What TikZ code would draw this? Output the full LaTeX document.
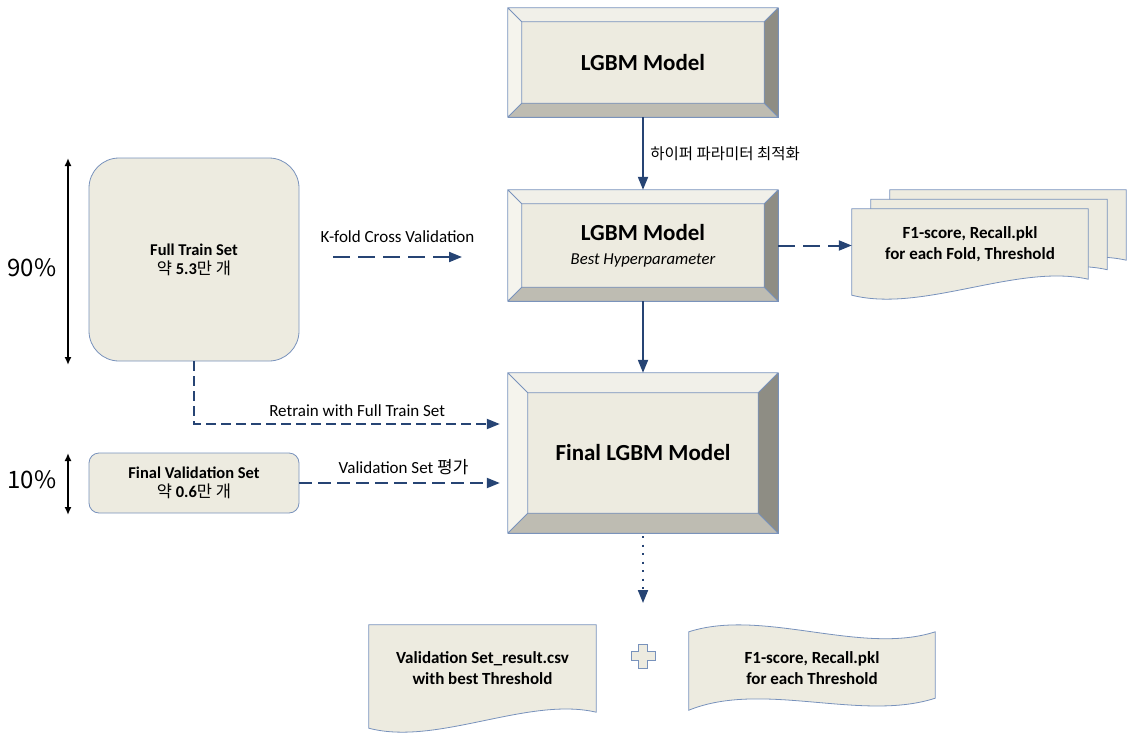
\documentclass[tikz,border=0pt]{standalone}
\usepackage{fontspec}
\setmainfont{Carlito}
\newfontfamily\kr{Noto Sans CJK KR}
\usetikzlibrary{arrows.meta,calc,backgrounds}

\definecolor{face}{RGB}{237,235,224}
\definecolor{bvtop}{RGB}{241,240,233}
\definecolor{bvleft}{RGB}{245,244,237}
\definecolor{bvright}{RGB}{142,141,132}
\definecolor{bvbottom}{RGB}{190,188,178}
\definecolor{edgeblue}{RGB}{120,146,188}
\definecolor{flow}{RGB}{38,68,116}

\tikzset{
  model/.style={draw=edgeblue,fill=face,inner sep=0pt,align=center,font=\bfseries\fontsize{23}{26}\selectfont},
  setbox/.style={draw=edgeblue,fill=face,line width=0.8pt,align=center,inner sep=0pt,font=\bfseries\fontsize{16.5}{19}\selectfont},
  docbox/.style={inner sep=0pt,align=center,font=\bfseries\fontsize{17}{21}\selectfont},
  docline/.style={draw=edgeblue,fill=face,line width=0.8pt},
  flowarrow/.style={flow,line width=2pt,-{Triangle[length=13pt,width=10pt]}},
  longdash/.style={flowarrow,dash pattern=on 17pt off 8pt},
  shortdash/.style={flowarrow,dash pattern=on 10pt off 5pt},
  lbl/.style={text=black,font=\fontsize{17}{20}\selectfont},
  share/.style={black,line width=2pt,{Latex[length=8pt,width=7pt]}-{Latex[length=8pt,width=7pt]}},
  pct/.style={font=\kr\fontsize{24}{28}\selectfont}
}

% bevel frame round a model node
\newcommand{\bevel}[2]{%
  \path (#1.north west) coordinate (bwA) ++(#2,#2) coordinate (bwa);
  \path (#1.north east) coordinate (bwB) ++(-#2,#2) coordinate (bwb);
  \path (#1.south east) coordinate (bwC) ++(-#2,-#2) coordinate (bwc);
  \path (#1.south west) coordinate (bwD) ++(#2,-#2) coordinate (bwd);
  \fill[bvtop] (bwA) -- (bwB) -- (bwb) -- (bwa) -- cycle;
  \fill[bvright] (bwB) -- (bwC) -- (bwc) -- (bwb) -- cycle;
  \fill[bvbottom] (bwC) -- (bwD) -- (bwd) -- (bwc) -- cycle;
  \fill[bvleft] (bwD) -- (bwA) -- (bwa) -- (bwd) -- cycle;
  \draw[edgeblue,line width=0.8pt] (bwA) rectangle (bwC) (bwa) rectangle (bwc)
    (bwA) -- (bwa) (bwB) -- (bwb) (bwC) -- (bwc) (bwD) -- (bwd);
}
% document outline behind a docbox node
\newcommand{\docshape}[1]{%
  \begin{scope}[on background layer]
    \draw[docline] (#1.north west) -- (#1.north east) -- (#1.south east)
      .. controls ($(#1.south east)!0.3!(#1.south west)+(0,-16)$) and ($(#1.south east)!0.7!(#1.south west)+(0,34)$) .. ($(#1.south west)+(0,16)$) -- cycle;
  \end{scope}
}
% tape outline behind a docbox node
\newcommand{\tapeshape}[1]{%
  \begin{scope}[on background layer]
    \draw[docline] (#1.north west)
      .. controls ($(#1.north west)!0.3!(#1.north east)+(0,-24)$) and ($(#1.north west)!0.7!(#1.north east)+(0,24)$) .. (#1.north east)
      -- ($(#1.south east)+(0,-6)$)
      .. controls ($(#1.south west)!0.7!(#1.south east)+(0,18)$) and ($(#1.south west)!0.3!(#1.south east)+(0,-24)$) .. ($(#1.south west)+(0,6)$) -- cycle;
  \end{scope}
}

\begin{document}
\begin{tikzpicture}[x=1pt,y=-1pt]
  \useasboundingbox (0,0) rectangle (1147,749);

  % models
  \node[model,minimum width=270,minimum height=109] (lgbm) at (643,62.5) {LGBM Model};
  \bevel{lgbm}{14}
  \node[model,minimum width=270,minimum height=111] (best) at (643,245.5)
    {LGBM Model\\[-2pt]{\mdseries\itshape\fontsize{16.7}{20}\selectfont Best Hyperparameter}};
  \bevel{best}{14}
  \node[model,minimum width=270,minimum height=160] (final) at (643,453) {Final LGBM Model};
  \bevel{final}{20}

  % data sets
  \node[setbox,rounded corners=30pt,minimum width=210,minimum height=203] (full) at (194,259.5)
    {Full Train Set\\{\kr\mdseries 약} 5.3{\kr\mdseries 만 개}};
  \node[setbox,rounded corners=10pt,minimum width=210,minimum height=60] (val) at (194,483)
    {Final Validation Set\\{\kr\mdseries 약} 0.6{\kr\mdseries 만 개}};
  \coordinate (s90a) at (68,158);  \coordinate (s90b) at (68,365);
  \coordinate (s10a) at (68,453);  \coordinate (s10b) at (68,515);
  \draw[share] (s90a) -- (s90b);
  \draw[share] (s10a) -- (s10b);
  \node[pct] (p90) at (32,268) {90\%};
  \node[pct] (p10) at (32,480) {10\%};

  % fold results
  \foreach \i in {2,1}{
    \node[docbox,minimum width=236,minimum height=70] (fold\i) at ({970+19*\i},{244-9.5*\i}) {};
    \docshape{fold\i}
  }
  \node[docbox,minimum width=236,minimum height=70] (fold) at (970,244)
    {F1-score, Recall.pkl\\for each Fold, Threshold};
  \docshape{fold}

  % final outputs
  \node[docbox,minimum width=227,minimum height=87] (csv) at (482.5,668.5)
    {Validation Set\_result.csv\\with best Threshold};
  \docshape{csv}
  \node[docbox,minimum width=246,minimum height=72] (thr) at (812,668)
    {F1-score, Recall.pkl\\for each Threshold};
  \tapeshape{thr}
  \draw[edgeblue,fill=face,line width=0.8pt] (638.5,644) -- (647.5,644) -- (647.5,651.5) -- (655,651.5)
    -- (655,660.5) -- (647.5,660.5) -- (647.5,668) -- (638.5,668) -- (638.5,660.5) -- (631,660.5)
    -- (631,651.5) -- (638.5,651.5) -- cycle;

  % connectors
  \draw[flowarrow] (lgbm) -- (best) node[lbl,midway,right=3pt,font=\kr\fontsize{15.5}{18}\selectfont] {하이퍼 파라미터 최적화};
  \draw[flowarrow] (best) -- (final);
  \draw[longdash] (best.east) -- (best.east -| fold.west);
  \coordinate (kf1) at (333,257);  \coordinate (kf2) at (462,257);
  \draw[longdash] (kf1) -- (kf2) node[lbl,midway,above=10pt] {K-fold Cross Validation};
  \draw[shortdash,shorten >=8pt] (full.south) |- ([yshift=29pt]final.west)
    node[lbl,pos=0.76,above=3pt] {Retrain with Full Train Set};
  \draw[flowarrow,dash pattern=on 13pt off 6pt,shorten >=8pt] (val.east) -- (val.east -| final.west)
    node[lbl,midway,above=4pt] {Validation Set {\kr 평가}};
  \coordinate (dots) at (643,603);
  \draw[flowarrow,dash pattern=on 2pt off 6.5pt] (final.south) ++(0,3) -- (dots);
\end{tikzpicture}
\end{document}
